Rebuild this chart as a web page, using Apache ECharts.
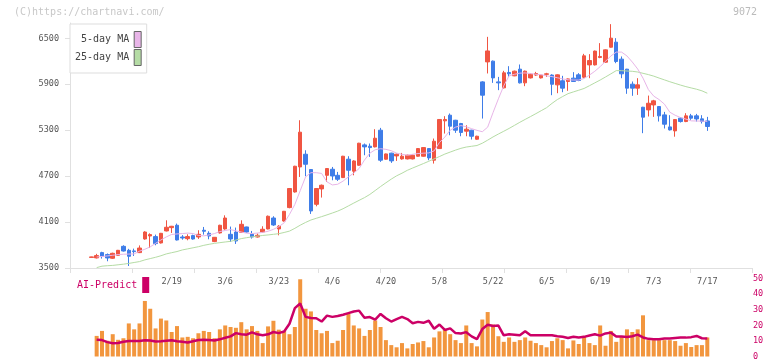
<!DOCTYPE html>
<html>
<head>
<meta charset="utf-8">
<title>9072</title>
<script src="https://cdn.jsdelivr.net/npm/echarts@6.0.0/dist/echarts.min.js"></script>
<style>
  html, body { margin: 0; padding: 0; background: #fff; }
  #chart { width: 772px; height: 361px; }
</style>
</head>
<body>
<div id="chart"></div>
<script>
// trading days shown on the chart (only every 10th one gets a label)
const dates = [
  '1/28', '1/29', '1/30', '1/31', '2/3', '2/4', '2/5', '2/6', '2/7', '2/10',
  '2/12', '2/13', '2/14', '2/17', '2/18', '2/19', '2/20', '2/21', '2/25', '2/26',
  '2/27', '2/28', '3/2', '3/3', '3/5', '3/6', '3/9', '3/10', '3/11', '3/12',
  '3/13', '3/16', '3/17', '3/18', '3/19', '3/23', '3/24', '3/25', '3/26', '3/27',
  '3/30', '3/31', '4/1', '4/2', '4/3', '4/6', '4/7', '4/8', '4/9', '4/10',
  '4/13', '4/14', '4/15', '4/16', '4/17', '4/20', '4/21', '4/22', '4/23', '4/24',
  '4/27', '4/28', '4/30', '5/1', '5/7', '5/8', '5/11', '5/12', '5/13', '5/14',
  '5/15', '5/18', '5/19', '5/20', '5/21', '5/22', '5/25', '5/26', '5/27', '5/28',
  '5/29', '6/1', '6/2', '6/3', '6/4', '6/5', '6/8', '6/9', '6/10', '6/11',
  '6/12', '6/15', '6/16', '6/17', '6/18', '6/19', '6/22', '6/23', '6/24', '6/25',
  '6/26', '6/29', '6/30', '7/1', '7/2', '7/3', '7/6', '7/7', '7/8', '7/9',
  '7/10', '7/13', '7/14', '7/15', '7/16', '7/17'
];

const openPrices = [
  3638, 3632, 3701, 3675, 3627, 3666, 3783, 3731, 3723, 3701,
  3879, 3918, 3910, 3827, 3984, 4027, 4058, 3905, 3883, 3923,
  3905, 3993, 3953, 3845, 3958, 4010, 3940, 3970, 3966, 4036,
  3940, 3905, 3970, 4010, 4153, 4010, 4114, 4289, 4493, 4820,
  4986, 4786, 4332, 4533, 4711, 4790, 4711, 4681, 4921, 4764,
  4842, 5108, 5091, 5082, 5300, 4921, 5000, 4964, 4925, 4925,
  4925, 4960, 4960, 5060, 4908, 5060, 5422, 5496, 5430, 5387,
  5287, 5300, 5182, 5931, 6192, 6202, 5931, 5853, 6054, 6010,
  6097, 5918, 5983, 6020, 5983, 6030, 6020, 5892, 5945, 5936,
  5980, 6023, 5992, 6153, 6153, 6250, 6188, 6384, 6450, 6228,
  6097, 5901, 5849, 5600, 5565, 5630, 5609, 5500, 5343, 5291,
  5457, 5413, 5487, 5487, 5448, 5421
];
const closePrices = [
  3645, 3662, 3653, 3631, 3692, 3731, 3722, 3653, 3714, 3761,
  3970, 3936, 3819, 3953, 4032, 4045, 3866, 3892, 3910, 3879,
  3940, 3980, 3918, 3901, 4058, 4153, 3879, 3853, 4071, 3970,
  3905, 3927, 4006, 4176, 4062, 4045, 4241, 4538, 4829, 5274,
  4855, 4245, 4538, 4581, 4799, 4702, 4659, 4960, 4777, 4898,
  5130, 5082, 5073, 5195, 4908, 4990, 4899, 4986, 4960, 4973,
  4973, 5060, 5073, 4938, 5156, 5440, 5440, 5352, 5300, 5270,
  5313, 5221, 5221, 5757, 6335, 5983, 5918, 6049, 6036, 6071,
  5918, 6071, 6032, 6040, 6019, 6036, 5900, 6023, 5849, 5970,
  5936, 5949, 6271, 6210, 6333, 6263, 6349, 6502, 6197, 6036,
  5849, 5849, 5892, 5470, 5652, 5683, 5487, 5378, 5304, 5439,
  5413, 5487, 5457, 5447, 5413, 5348
];
const lowPrices = [
  3635, 3625, 3623, 3588, 3618, 3660, 3715, 3526, 3657, 3695,
  3870, 3761, 3797, 3820, 3978, 3958, 3860, 3870, 3862, 3870,
  3880, 3936, 3875, 3838, 3950, 4000, 3840, 3814, 3960, 3962,
  3884, 3898, 3965, 4005, 4050, 3927, 4105, 4280, 4485, 4689,
  4698, 4206, 4306, 4420, 4624, 4646, 4637, 4675, 4581, 4711,
  4835, 4973, 4951, 5075, 4886, 4915, 4873, 4899, 4915, 4918,
  4918, 4955, 4955, 4908, 4864, 5055, 5256, 5234, 5265, 5221,
  5221, 5178, 5175, 5452, 6041, 5918, 5823, 5845, 5996, 6005,
  5910, 5875, 5975, 6010, 5975, 5996, 5757, 5783, 5796, 5814,
  5930, 5940, 5979, 5979, 6145, 6240, 6180, 6378, 6175, 5979,
  5775, 5749, 5761, 5261, 5479, 5474, 5413, 5322, 5296, 5215,
  5400, 5405, 5435, 5413, 5387, 5291
];
const highPrices = [
  3648, 3685, 3712, 3690, 3700, 3736, 3797, 3750, 3753, 3795,
  3980, 3953, 3936, 3958, 4123, 4050, 4080, 3930, 3940, 3935,
  3993, 4036, 3980, 3905, 4065, 4188, 4041, 4028, 4123, 4040,
  3984, 3950, 4045, 4185, 4176, 4060, 4245, 4545, 4835, 5430,
  5038, 4790, 4545, 4590, 4805, 4820, 4755, 4965, 4960, 4908,
  5135, 5126, 5126, 5313, 5330, 4995, 5005, 4995, 5003, 4980,
  4980, 5065, 5078, 5065, 5191, 5445, 5483, 5518, 5435, 5395,
  5365, 5305, 5228, 5940, 6519, 6210, 5996, 6075, 6136, 6078,
  6158, 6078, 6040, 6062, 6025, 6049, 6030, 6030, 6010, 5975,
  6058, 6045, 6297, 6293, 6340, 6437, 6355, 6685, 6502, 6263,
  6101, 5936, 5979, 5605, 5752, 5696, 5615, 5539, 5496, 5444,
  5470, 5522, 5513, 5513, 5496, 5474
];

const ma5 = [
  '-', 3644, 3650, 3658, 3666, 3676, 3680, 3682, 3684, 3720,
  3745, 3776, 3822, 3866, 3906, 3938, 3945, 3950, 3956, 3950,
  3925, 3920, 3932, 3950, 3976, 3990, 4002, 3985, 3970, 3955,
  3950, 3956, 3965, 3980, 4005, 4040, 4090, 4200, 4330, 4510,
  4690, 4745, 4745, 4735, 4625, 4585, 4594, 4635, 4690, 4740,
  4800, 4910, 5000, 5045, 5058, 5050, 5032, 5000, 4985, 4973,
  4985, 4995, 5000, 5003, 5030, 5140, 5210, 5300, 5340, 5360,
  5345, 5320, 5298, 5280, 5340, 5530, 5710, 5880, 6010, 6030,
  6045, 6048, 6040, 6030, 6025, 6010, 6000, 5985, 5970, 5958,
  5955, 5955, 5975, 6020, 6070, 6130, 6200, 6270, 6320, 6320,
  6270, 6190, 6100, 5980, 5830, 5745, 5700, 5640, 5535, 5495,
  5465, 5445, 5422, 5420, 5418, 5415
];
const ma25 = [
  '-', 3505, 3524, 3530, 3534, 3542, 3550, 3560, 3572, 3584,
  3606, 3623, 3640, 3660, 3684, 3700, 3715, 3736, 3750, 3764,
  3778, 3796, 3810, 3822, 3831, 3840, 3848, 3865, 3884, 3896,
  3906, 3916, 3925, 3932, 3940, 3948, 3964, 3982, 4018, 4059,
  4095, 4127, 4149, 4171, 4194, 4218, 4243, 4274, 4311, 4348,
  4384, 4419, 4461, 4512, 4564, 4613, 4661, 4704, 4738, 4776,
  4806, 4835, 4864, 4894, 4925, 4956, 4988, 5014, 5040, 5063,
  5080, 5090, 5100, 5130, 5170, 5212, 5250, 5286, 5323, 5363,
  5403, 5441, 5478, 5516, 5555, 5594, 5650, 5700, 5740, 5777,
  5800, 5822, 5845, 5881, 5918, 5955, 5995, 6036, 6078, 6077,
  6073, 6069, 6060, 6043, 6026, 6006, 5981, 5957, 5933, 5911,
  5889, 5869, 5852, 5835, 5814, 5783
];

const volumes = [
  '-', 13.2, 16.4, 10.1, 14.3, 10.7, 11.7, 21.2, 17.4, 21.2,
  35.6, 30.6, 18.0, 24.3, 23.1, 15.7, 19.5, 12.2, 12.6, 11.7,
  14.9, 16.4, 15.7, 11.7, 17.4, 19.9, 18.9, 18.4, 22.0, 17.4,
  19.5, 16.4, 8.6, 19.3, 22.9, 17.2, 16.4, 14.3, 18.9, 49.5,
  30.6, 28.9, 17.0, 14.9, 16.4, 8.6, 10.1, 17.0, 27.3, 19.9,
  18.0, 13.2, 17.0, 23.1, 18.9, 10.5, 7.3, 5.9, 8.6, 5.2,
  8.0, 9.0, 9.9, 5.9, 12.2, 16.1, 17.4, 14.3, 10.5, 8.6,
  19.9, 8.6, 6.5, 23.7, 28.5, 20.5, 13.0, 9.4, 12.2, 9.4,
  10.5, 12.2, 10.1, 8.6, 7.3, 5.9, 9.9, 11.7, 10.5, 5.2,
  10.3, 8.0, 13.2, 8.6, 7.3, 19.9, 6.9, 16.4, 9.4, 12.8,
  17.4, 15.7, 17.4, 26.4, 10.5, 10.5, 10.5, 10.5, 10.5, 9.9,
  6.9, 8.6, 6.1, 7.3, 7.3, 12.2
];
const aiPredict = [
  '-', 10.7, 10.5, 9.2, 8.5, 8.6, 9.5, 10.0, 10.0, 10.0,
  10.4, 10.2, 9.6, 9.8, 10.1, 10.4, 9.8, 9.5, 9.0, 9.8,
  10.6, 10.7, 10.6, 10.2, 11.0, 12.0, 12.9, 15.0, 14.3, 14.0,
  15.5, 14.2, 13.6, 14.2, 15.7, 15.0, 16.0, 21.0, 31.0, 34.0,
  25.4, 24.7, 24.5, 22.4, 26.2, 25.4, 26.0, 26.8, 27.8, 28.8,
  29.4, 24.9, 25.3, 23.6, 27.3, 24.5, 22.4, 24.0, 25.4, 24.0,
  21.3, 22.2, 21.6, 22.9, 17.8, 20.5, 17.0, 18.0, 15.0, 14.7,
  15.6, 12.9, 11.1, 17.6, 20.4, 19.6, 19.8, 13.6, 14.2, 14.0,
  13.6, 16.2, 13.6, 13.6, 13.6, 13.6, 13.6, 13.0, 12.6, 11.9,
  12.6, 12.2, 12.6, 13.5, 14.3, 13.4, 14.8, 15.3, 12.8, 12.8,
  12.5, 13.0, 14.0, 12.2, 11.3, 11.1, 11.1, 11.5, 11.5, 11.9,
  12.2, 12.1, 12.4, 13.2, 11.7, 11.5
];

const priceTicks = [3500, 4100, 4700, 5300, 5900, 6500];

const mono = 'DejaVu Sans Mono';
const upColor = '#f05542';
const downColor = '#3f7de8';
const aiColor = '#cc0066';

const candles = openPrices.map((o, i) => [o, closePrices[i], lowPrices[i], highPrices[i]]);

const chart = echarts.init(document.getElementById('chart'));

const option = {
  animation: false,
  backgroundColor: '#fff',
  graphic: [
    {
      type: 'text', left: 14, top: 7,
      style: { text: '(C)https://chartnavi.com/', fill: '#c8c8c8', font: '10px ' + mono }
    },
    {
      type: 'text', right: 15, top: 7,
      style: { text: '9072', fill: '#bbbbbb', font: '10px ' + mono }
    }
  ],
  legend: [
    {
      orient: 'vertical',
      left: 70,
      top: 24,
      padding: [7, 5, 7, 5],
      itemGap: 1,
      itemWidth: 7,
      itemHeight: 16,
      align: 'right',
      icon: 'rect',
      selectedMode: false,
      backgroundColor: '#fff',
      borderColor: '#dddddd',
      borderWidth: 1,
      data: ['5-day MA', '25-day MA'],
      // pad the short name so both icons line up on the right
      formatter: function (name) {
        return name.length < 9 ? ' ' + name : name;
      },
      itemStyle: { borderColor: '#666', borderWidth: 1 },
      textStyle: { fontFamily: mono, fontSize: 10, color: '#444' }
    },
    {
      left: 77,
      top: 277,
      padding: 0,
      itemWidth: 7,
      itemHeight: 16,
      align: 'right',
      icon: 'rect',
      selectedMode: false,
      data: ['AI-Predict'],
      textStyle: { fontFamily: mono, fontSize: 10, color: aiColor }
    }
  ],
  grid: [
    { left: 70, top: 23, width: 682, height: 245 },      // frame: bottom axis ticks
    { left: 91.3, top: 23, width: 616, height: 245 },    // candles
    { left: 91.3, top: 278.5, width: 616, height: 79.5 } // volume
  ],
  xAxis: [
    {
      type: 'value', gridIndex: 0, min: 0, max: 11, interval: 1,
      axisLine: { show: true, lineStyle: { color: '#e0e0e0', width: 1 } },
      axisTick: { show: true, length: 5, lineStyle: { color: '#e0e0e0' } },
      axisLabel: { show: false },
      splitLine: { show: false }
    },
    {
      type: 'category', gridIndex: 1, data: dates, boundaryGap: false,
      axisLine: { show: false },
      axisTick: { show: false },
      splitLine: { show: false },
      axisLabel: {
        interval: function (index) {
          return index >= 15 && (index - 15) % 10 === 0;
        },
        margin: 9,
        fontFamily: mono,
        fontSize: 8.5,
        color: '#555'
      }
    },
    {
      type: 'category', gridIndex: 2, data: dates, boundaryGap: false, show: false
    }
  ],
  yAxis: [
    { type: 'value', gridIndex: 0, min: 0, max: 1, show: false },
    {
      type: 'value', gridIndex: 1, min: 3500, max: 6700, interval: 600,
      offset: 21.3,
      axisLine: { show: true, lineStyle: { color: '#e0e0e0' } },
      axisTick: { show: true, length: 5, customValues: priceTicks, lineStyle: { color: '#e0e0e0' } },
      axisLabel: {
        customValues: priceTicks,
        formatter: function (v) { return String(v); },
        margin: 11,
        fontFamily: mono,
        fontSize: 8.5,
        color: '#555'
      },
      splitLine: { show: false }
    },
    {
      type: 'value', gridIndex: 2, position: 'right', min: 0, max: 50, interval: 10,
      offset: 44.7,
      axisLine: { show: false },
      axisTick: { show: false },
      splitLine: { show: false },
      axisLabel: { margin: 1, fontFamily: mono, fontSize: 8.5, color: aiColor }
    }
  ],
  series: [
    {
      name: '25-day MA', type: 'line', xAxisIndex: 1, yAxisIndex: 1,
      data: ma25, symbol: 'none', clip: false,
      lineStyle: { color: '#b5dca5', width: 1 },
      itemStyle: { color: '#b5dca5' }
    },
    {
      name: '5-day MA', type: 'line', xAxisIndex: 1, yAxisIndex: 1,
      data: ma5, symbol: 'none', clip: false,
      lineStyle: { color: '#e8b5e8', width: 1 },
      itemStyle: { color: '#e8b5e8' }
    },
    {
      name: 'price', type: 'candlestick', xAxisIndex: 1, yAxisIndex: 1,
      data: candles, barWidth: 4, clip: false,
      itemStyle: {
        color: upColor, color0: downColor,
        borderColor: upColor, borderColor0: downColor,
        borderWidth: 1
      }
    },
    {
      name: 'volume', type: 'bar', xAxisIndex: 2, yAxisIndex: 2,
      data: volumes, barWidth: 4,
      itemStyle: { color: '#f2963e' }
    },
    {
      name: 'AI-Predict', type: 'line', xAxisIndex: 2, yAxisIndex: 2,
      data: aiPredict, symbol: 'none', clip: false,
      lineStyle: { color: aiColor, width: 2.5 },
      itemStyle: { color: aiColor }
    }
  ]
};

chart.setOption(option);
</script>
</body>
</html>
